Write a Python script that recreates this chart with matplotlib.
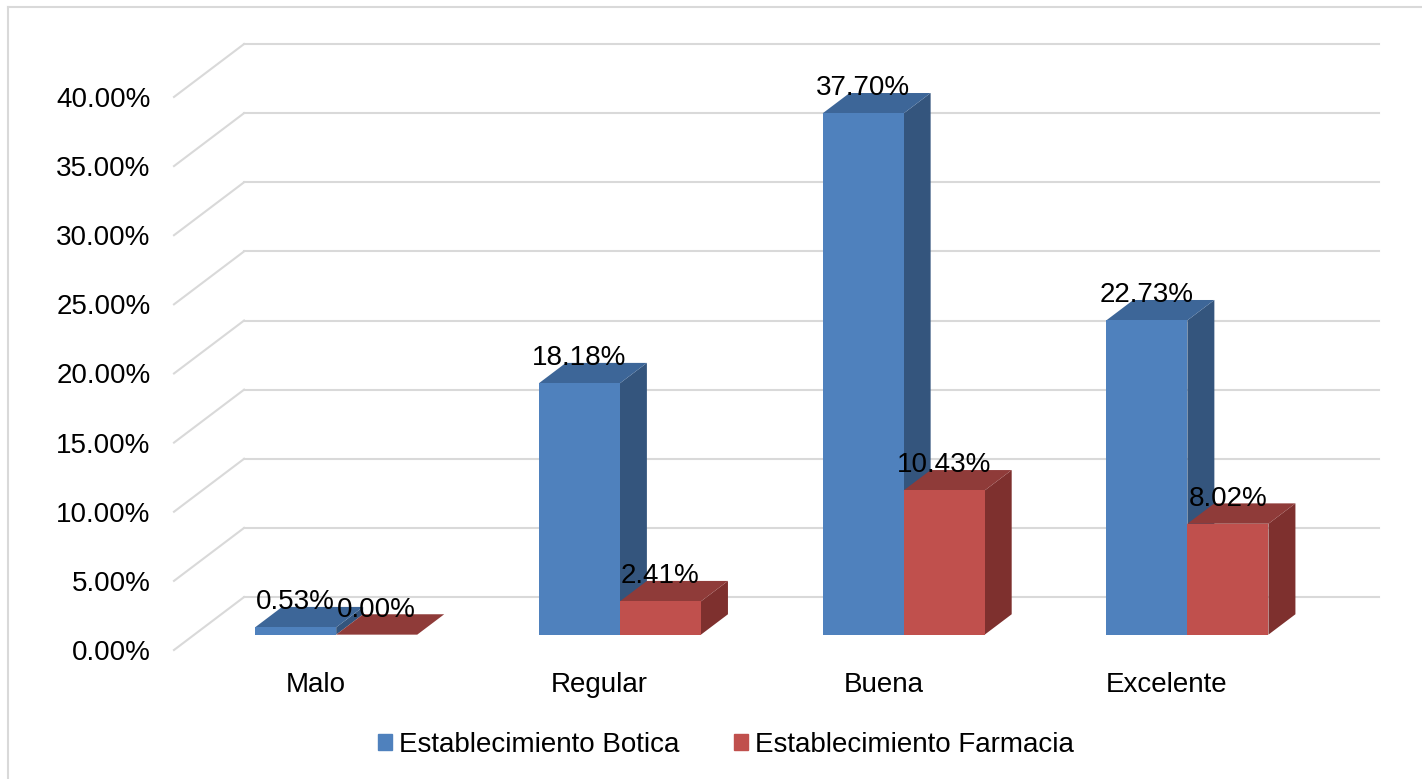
import matplotlib.pyplot as plt
from matplotlib.patches import Polygon, Patch
from matplotlib.lines import Line2D

plt.rcParams['font.family'] = ['Liberation Sans', 'DejaVu Sans']

# data
categories = ['Malo', 'Regular', 'Buena', 'Excelente']
botica = [0.53, 18.18, 37.70, 22.73]
farmacia = [0.00, 2.41, 10.43, 8.02]
series_names = ['Establecimiento Botica', 'Establecimiento Farmacia']
y_ticks = [0, 5, 10, 15, 20, 25, 30, 35, 40]

# face colours (front, top, side)
blue = ('#4F81BD', '#3D6698', '#34557D')
red = ('#C0504D', '#8F3B39', '#7E302E')
grid_color = '#D9D9D9'

# fake 3d: depth vector of the whole floor, bars sit between Z1 and Z2
DX, DY = 0.247, 3.83
Z1, Z2 = 0.29, 0.675
W = 0.2857
FS = 20


def bar3d(ax, x0, v, cols):
    front, top, side = cols
    fx, fy = x0 + Z1 * DX, Z1 * DY
    bx, by = x0 + Z2 * DX, Z2 * DY
    side_pts = [(fx + W, fy), (bx + W, by), (bx + W, by + v), (fx + W, fy + v)]
    top_pts = [(fx, fy + v), (fx + W, fy + v), (bx + W, by + v), (bx, by + v)]
    front_pts = [(fx, fy), (fx + W, fy), (fx + W, fy + v), (fx, fy + v)]
    for pts, c in [(side_pts, side), (top_pts, top), (front_pts, front)]:
        ax.add_patch(Polygon(pts, closed=True, facecolor=c, edgecolor='none', zorder=3))
    ax.annotate(f'{v:.2f}%', (fx + W / 2, fy + v), xytext=(0, 13), textcoords='offset points',
                ha='center', va='baseline', fontsize=FS, color='black', zorder=5)


fig = plt.figure(figsize=(14.22, 7.79), dpi=100)
ax = fig.add_axes([174 / 1422, 129 / 779, 1205 / 1422, 606 / 779])
ax.set_xlim(-0.5, len(categories) - 0.5 + DX)
ax.set_ylim(0, y_ticks[-1] + DY)
ax.patch.set_alpha(0)
for s in ax.spines.values():
    s.set_visible(False)

# walls: back gridlines + side wall diagonals
x_left = -0.5
x_right = len(categories) - 0.5
for t in y_ticks:
    ax.plot([x_left + DX, x_right + DX], [t + DY, t + DY], color=grid_color, lw=1.5, zorder=1, clip_on=False)
    ax.plot([x_left, x_left + DX], [t, t + DY], color=grid_color, lw=1.5, zorder=1, clip_on=False)

# bars
for i in range(len(categories)):
    bar3d(ax, i - W, botica[i], blue)
    bar3d(ax, i, farmacia[i], red)

ax.set_yticks(y_ticks)
ax.set_yticklabels([f'{t:.2f}%' for t in y_ticks])
ax.set_xticks(range(len(categories)))
ax.set_xticklabels(categories)
ax.tick_params(axis='y', length=0, pad=17, labelsize=FS)
ax.tick_params(axis='x', length=0, pad=16, labelsize=FS)

# legend
handles = [Patch(color=blue[0], label=series_names[0]), Patch(color=red[0], label=series_names[1])]
fig.legend(handles=handles, loc='center', bbox_to_anchor=(0.5105, 0.0437), ncol=2, frameon=False,
           handlelength=0.5, handleheight=0.5, handletextpad=0.25, columnspacing=2.0, fontsize=FS)

# chart border (only left and top visible)
fig.add_artist(Line2D([8 / 1422, 8 / 1422], [0, 1 - 7 / 779], transform=fig.transFigure, color=grid_color, lw=1.5))
fig.add_artist(Line2D([8 / 1422, 1], [1 - 7 / 779, 1 - 7 / 779], transform=fig.transFigure, color=grid_color, lw=1.5))

fig.savefig('out.png', dpi=100)
